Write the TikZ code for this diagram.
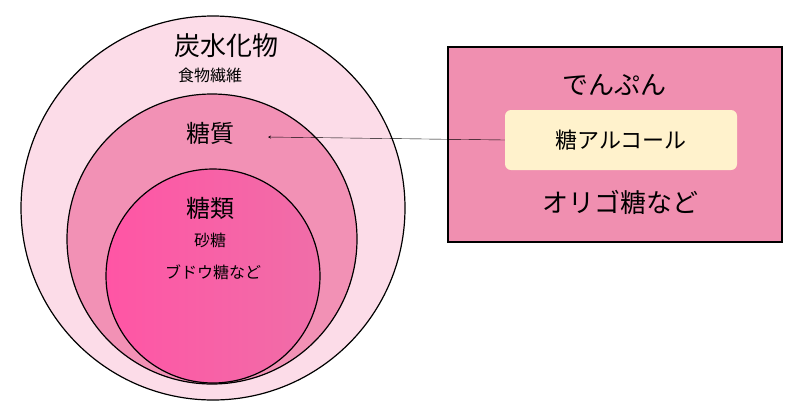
\documentclass[tikz,border=0pt]{standalone}
\usepackage{fontspec}
\setmainfont{Noto Sans CJK JP}
\begin{document}
\begin{tikzpicture}[x=1pt,y=-1pt,
  ring/.style={draw=black,line width=1.2pt},
  t/.style={inner sep=0pt,font=\fontsize{#1}{#1}\selectfont}]
\useasboundingbox (0,0) rectangle (800,400);
\path[ring,fill={rgb,255:red,252;green,220;blue,232}] (213,208) circle[radius=192];
\path[ring,fill={rgb,255:red,242;green,145;blue,181}] (212,239) circle[radius=145];
\shade[ring,left color={rgb,255:red,255;green,85;blue,165},right color={rgb,255:red,240;green,110;blue,168}] (213,276) circle[radius=107];
\node[t=26] (c) at (226,46) {炭水化物};
\node[t=16] (f) at (210,75) {食物繊維};
\node[t=24] (s) at (210,133) {糖質};
\node[t=24] (r) at (210,208) {糖類};
\node[t=16] (su) at (210,240) {砂糖};
\node[t=16] (b) at (213,272) {ブドウ糖など};
\node[draw=black,line width=1.2pt,fill={rgb,255:red,240;green,143;blue,176},minimum width=334,minimum height=195,inner sep=0pt] (box) at (615,144.5) {};
\node[t=26] (d) at (614,85) {でんぷん};
\node[fill={rgb,255:red,255;green,242;blue,204},rounded corners=6pt,minimum width=232,minimum height=60,inner sep=0pt] (a) at (621,140) {};
\node[t=22] at (a) {糖アルコール};
\node[t=26] (o) at (620,202) {オリゴ糖など};
\coordinate (tip) at (268,137);
\draw[-stealth,thin] (a.west) -- (tip);
\end{tikzpicture}
\end{document}
